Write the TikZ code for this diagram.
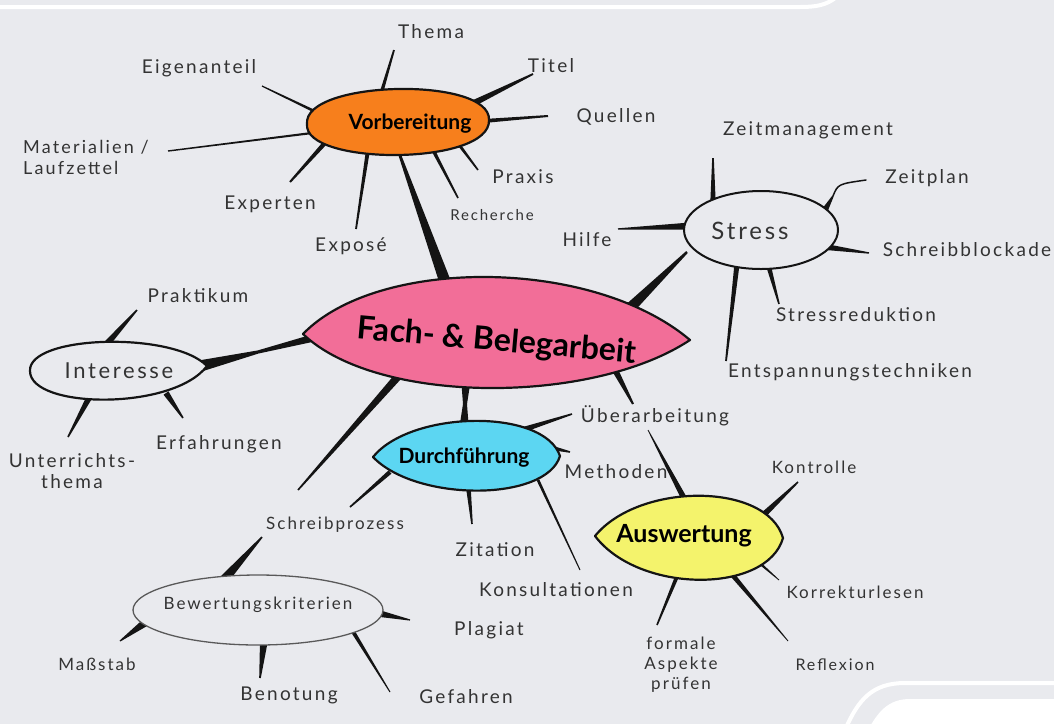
\documentclass[tikz,border=0pt]{standalone}
\usepackage{fontspec}
\setmainfont{Lato}
\newfontfamily\hand[LetterSpace=12]{Lato}
\usetikzlibrary{calc}
\definecolor{bgc}{HTML}{E9EAEE}
\definecolor{ink}{HTML}{141414}
\definecolor{txt}{HTML}{333333}
\definecolor{pinkc}{HTML}{F26E98}
\definecolor{orangec}{HTML}{F77F1C}
\definecolor{cyanc}{HTML}{5CD6F2}
\definecolor{yellowc}{HTML}{F4F36C}
\pgfdeclarelayer{back}
\pgfdeclarelayer{links}
\pgfdeclarelayer{shapes}
\pgfsetlayers{back,links,shapes,main}
% tapered connector: node1, offset1, node2, offset2, half width at 1, half width at 2
\newcommand\conn[6]{%
  \path ($(#1)+(#2)$) coordinate (lA) ($(#3)+(#4)$) coordinate (lB);
  \fill[ink] ($(lA)!#5pt!90:(lB)$) -- ($(lB)!#6pt!-90:(lA)$) -- ($(lB)!#6pt!90:(lA)$) -- ($(lA)!#5pt!-90:(lB)$) -- cycle;}
\tikzset{
  lbl/.style={text=txt, font=\hand\fontsize{19}{21}\selectfont, inner sep=1pt},
  lbls/.style={lbl, font=\hand\fontsize{17}{20}\selectfont},
  ttl/.style={text=black, font=\bfseries\fontsize{21}{24}\selectfont, inner sep=1pt},
  shp/.style={draw=ink, line width=2.2pt, line join=round},
}
\begin{document}
\begin{tikzpicture}[x=1pt,y=-1pt]
\useasboundingbox (0,0) rectangle (1054,724);
\begin{pgfonlayer}{back}
  \clip (0,0) rectangle (1054,724);
  \fill[bgc] (0,0) rectangle (1054,724);
  \draw[white, line width=4pt] (-5,7) -- (800,7) .. controls (822,7) and (830,3) .. (840,-6);
  \draw[white, line width=4pt] (845,730) .. controls (858,700) and (872,683) .. (905,683) -- (1060,683);
  \fill[white] (868,730) .. controls (878,712) and (888,699) .. (910,699) -- (1060,699) -- (1060,730) -- cycle;
\end{pgfonlayer}

% shape centres
\coordinate (vor) at (398,122);
\coordinate (fach) at (497,338);
\coordinate (stress) at (761,230);
\coordinate (inter) at (118,371);
\coordinate (durch) at (466,456);
\coordinate (ausw) at (689,538);
\coordinate (bew) at (258,610);

\begin{pgfonlayer}{shapes}
  \draw[shp, fill=orangec, shift={(vor)}] (-91,2) .. controls (-95,-42) and (93,-46) .. (91,-2) .. controls (93,44) and (-95,44) .. (-91,2) -- cycle;
  \draw[shp, fill=pinkc, shift={(fach)}] (-194,-4) .. controls (-120,-81) and (95,-81) .. (193,2) .. controls (95,67) and (-120,67) .. (-194,-4) -- cycle;
  \draw[shp, fill=bgc, line width=2pt, shift={(stress)}] (0,0) ellipse [x radius=77, y radius=39];
  \draw[shp, fill=bgc, shift={(inter)}] (-88,0) .. controls (-90,-36) and (55,-40) .. (89,-5) .. controls (55,40) and (-88,38) .. (-88,0) -- cycle;
  \draw[shp, fill=cyanc, shift={(durch)}] (-93,1) .. controls (-55,-46) and (78,-48) .. (94,0) .. controls (80,46) and (-50,46) .. (-93,1) -- cycle;
  \draw[shp, fill=yellowc, shift={(ausw)}] (-94,-2) .. controls (-50,-56) and (78,-56) .. (94,0) .. controls (78,56) and (-50,56) .. (-94,-2) -- cycle;
  \draw[draw=black!65, line width=1.3pt, fill=bgc, shift={(bew)}] (0,0) ellipse [x radius=125, y radius=35];
\end{pgfonlayer}

% titles
\node[ttl] (vor-t) at (410,124) {Vorbereitung};
\node[ttl, font=\bfseries\fontsize{32}{36}\selectfont, rotate=-5] (fach-t) at (497,342) {Fach- \& Belegarbeit};
\node[ttl] (durch-t) at (464,458) {Durchführung};
\node[ttl, font=\bfseries\fontsize{25}{28}\selectfont] (ausw-t) at (684,536) {Auswertung};
\node[lbl, font=\hand\fontsize{24}{28}\selectfont] (stress-t) at (750,231) {Stress};
\node[lbl, font=\hand\fontsize{22}{26}\selectfont] (inter-t) at (119,371) {Interesse};
\node[lbls] (bew-t) at (258,605) {Bewertungskriterien};

% labels
\node[lbl] (thema) at (431,32) {Thema};
\node[lbl] (titel) at (551,66) {Titel};
\node[lbl] (eigen) at (199,68) {Eigenanteil};
\node[lbl] (quellen) at (616,117) {Quellen};
\node[lbl, anchor=west, align=left, font=\hand\fontsize{18}{21}\selectfont] (mater) at (22,157) {Materialien /\\Laufzettel};
\node[lbl] (praxis) at (523,177) {Praxis};
\node[lbl, font=\hand\fontsize{15}{18}\selectfont] (recherche) at (492,215) {Recherche};
\node[lbl] (experten) at (270,204) {Experten};
\node[lbl] (expose) at (351,246) {Exposé};
\node[lbl] (zeitman) at (808,130) {Zeitmanagement};
\node[lbl] (zeitplan) at (927,178) {Zeitplan};
\node[lbl] (hilfe) at (587,240) {Hilfe};
\node[lbl] (schreibbl) at (967,250) {Schreibblockade};
\node[lbl] (stressred) at (856,315) {Stressreduktion};
\node[lbl] (entsp) at (850,372) {Entspannungstechniken};
\node[lbl] (praktikum) at (198,296) {Praktikum};
\node[lbl, align=center] (unterr) at (72,471) {Unterrichts-\\thema};
\node[lbl] (erfahr) at (219,444) {Erfahrungen};
\node[lbl] (ueber) at (655,416) {Überarbeitung};
\node[lbl] (methoden) at (616,472) {Methoden};
\node[lbls] (kontrolle) at (814,467) {Kontrolle};
\node[lbls] (schreib) at (335,525) {Schreibprozess};
\node[lbl] (zitation) at (495,550) {Zitation};
\node[lbl] (kons) at (556,590) {Konsultationen};
\node[lbls] (korrektur) at (855,592) {Korrekturlesen};
\node[lbl] (plagiat) at (489,630) {Plagiat};
\node[lbls] (massstab) at (97,664) {Maßstab};
\node[lbl] (benotung) at (289,695) {Benotung};
\node[lbl] (gefahren) at (466,697) {Gefahren};
\node[lbls, align=center] (formale) at (681,665) {formale\\Aspekte\\prüfen};
\node[lbl, font=\hand\fontsize{16}{19}\selectfont] (reflexion) at (835,665) {Reflexion};

% free ends of connectors
\coordinate (e-thema) at (394,50);
\coordinate (e-titel) at (533,74);
\coordinate (e-eigen) at (262,86);
\coordinate (e-quellen) at (548,116);
\coordinate (e-mater) at (168,151);
\coordinate (e-experten) at (290,182);
\coordinate (e-expose) at (356,229);
\coordinate (e-recherche) at (458,198);
\coordinate (e-praxis) at (478,170);
\coordinate (e-zeitman) at (713,158);
\coordinate (m-zeitplan) at (833,196);
\coordinate (e-zeitplan) at (866,180);
\coordinate (e-hilfe) at (618,229);
\coordinate (e-schreibbl) at (869,253);
\coordinate (e-stressred) at (779,304);
\coordinate (e-entsp) at (726,361);
\coordinate (e-praktikum) at (137,310);
\coordinate (e-unterr) at (68,437);
\coordinate (e-erfahr) at (183,418);
\coordinate (e-ueber) at (572,414);
\coordinate (e-methoden) at (570,452);
\coordinate (e-kons) at (580,570);
\coordinate (e-zitation) at (472,524);
\coordinate (e-dschreib) at (350,507);
\coordinate (e-schreib) at (298,490);
\coordinate (e-sb) at (262,537);
\coordinate (e-plagiat) at (410,620);
\coordinate (e-massstab) at (120,641);
\coordinate (e-benotung) at (260,678);
\coordinate (e-gefahren) at (390,692);
\coordinate (e-kontrolle) at (798,482);
\coordinate (e-korrektur) at (779,580);
\coordinate (e-reflexion) at (788,641);
\coordinate (e-formale) at (657,625);
\coordinate (e-ueb1) at (633,404);
\coordinate (e-ueb2) at (648,430);
\coordinate (m-fi) at (258,352);
\coordinate (m-fd) at (465,404);

\begin{pgfonlayer}{links}
  % Vorbereitung
  \conn{vor}{-17,-28}{e-thema}{0,0}{1.8}{0.9}
  \conn{vor}{74,-18}{e-titel}{0,0}{3.2}{0.9}
  \conn{vor}{-82,-10}{e-eigen}{0,0}{1.4}{0.6}
  \conn{vor}{86,-1}{e-quellen}{0,0}{2}{1}
  \conn{vor}{-86,11}{e-mater}{0,0}{1.1}{0.7}
  \conn{vor}{-74,22}{e-experten}{0,0}{2.2}{1}
  \conn{vor}{-30,28}{e-expose}{0,0}{2}{0.9}
  \conn{vor}{35,28}{e-recherche}{0,0}{1.8}{0.8}
  \conn{vor}{62,24}{e-praxis}{0,0}{1.5}{0.8}
  % Fach
  \conn{fach}{-49,-48}{vor}{0,28}{6}{1.2}
  \conn{fach}{131,-28}{stress}{-74,22}{5.5}{1.2}
  \conn{fach}{-176,-2}{m-fi}{0,0}{4}{1.6}
  \conn{inter}{78,-4}{m-fi}{0,0}{6}{1.6}
  \conn{fach}{-31,40}{m-fd}{0,0}{5}{2}
  \conn{durch}{-2,-26}{m-fd}{0,0}{5}{2}
  \conn{fach}{-95,34}{e-schreib}{0,0}{4}{0.8}
  \conn{fach}{117,30}{e-ueb1}{0,0}{3.2}{1}
  \conn{ausw}{-3,-36}{e-ueb2}{0,0}{3}{0.4}
  % Stress
  \conn{stress}{-48,-30}{e-zeitman}{0,0}{2.6}{0.8}
  \conn{stress}{64,-20}{m-zeitplan}{0,0}{3}{0.8}
  \draw[ink, line width=1.5pt, line cap=round] (m-zeitplan) .. controls (838,184) .. (e-zeitplan);
  \conn{stress}{-71,-4}{e-hilfe}{0,0}{3.5}{0.7}
  \conn{stress}{65,17}{e-schreibbl}{0,0}{3}{0.7}
  \conn{stress}{7,34}{e-stressred}{0,0}{2.5}{0.8}
  \conn{stress}{-24,34}{e-entsp}{0,0}{2.6}{0.9}
  % Interesse
  \conn{inter}{-14,-24}{e-praktikum}{0,0}{3.5}{0.8}
  \conn{inter}{-28,25}{e-unterr}{0,0}{3}{0.8}
  \conn{inter}{48,22}{e-erfahr}{0,0}{3}{0.8}
  % Durchfuehrung
  \conn{durch}{50,-24}{e-ueber}{0,0}{3}{0.8}
  \conn{durch}{82,-9}{e-methoden}{0,0}{2.5}{0.8}
  \conn{durch}{72,24}{e-kons}{0,0}{1.4}{0.5}
  \conn{durch}{2,28}{e-zitation}{0,0}{2.5}{0.8}
  \conn{durch}{-76,16}{e-dschreib}{0,0}{2.2}{0.8}
  % Bewertungskriterien
  \conn{bew}{-36,-28}{e-sb}{0,0}{5}{0.8}
  \conn{bew}{114,2}{e-plagiat}{0,0}{4}{0.6}
  \conn{bew}{-112,12}{e-massstab}{0,0}{4}{0.6}
  \conn{bew}{6,30}{e-benotung}{0,0}{4}{0.8}
  \conn{bew}{94,20}{e-gefahren}{0,0}{2}{0.5}
  % Auswertung
  \conn{ausw}{67,-16}{e-kontrolle}{0,0}{3.5}{0.8}
  \conn{ausw}{67,22}{e-korrektur}{0,0}{1.5}{0.4}
  \conn{ausw}{41,34}{e-reflexion}{0,0}{2.5}{0.4}
  \conn{ausw}{-11,36}{e-formale}{0,0}{2}{0.8}
\end{pgfonlayer}
\end{tikzpicture}
\end{document}
